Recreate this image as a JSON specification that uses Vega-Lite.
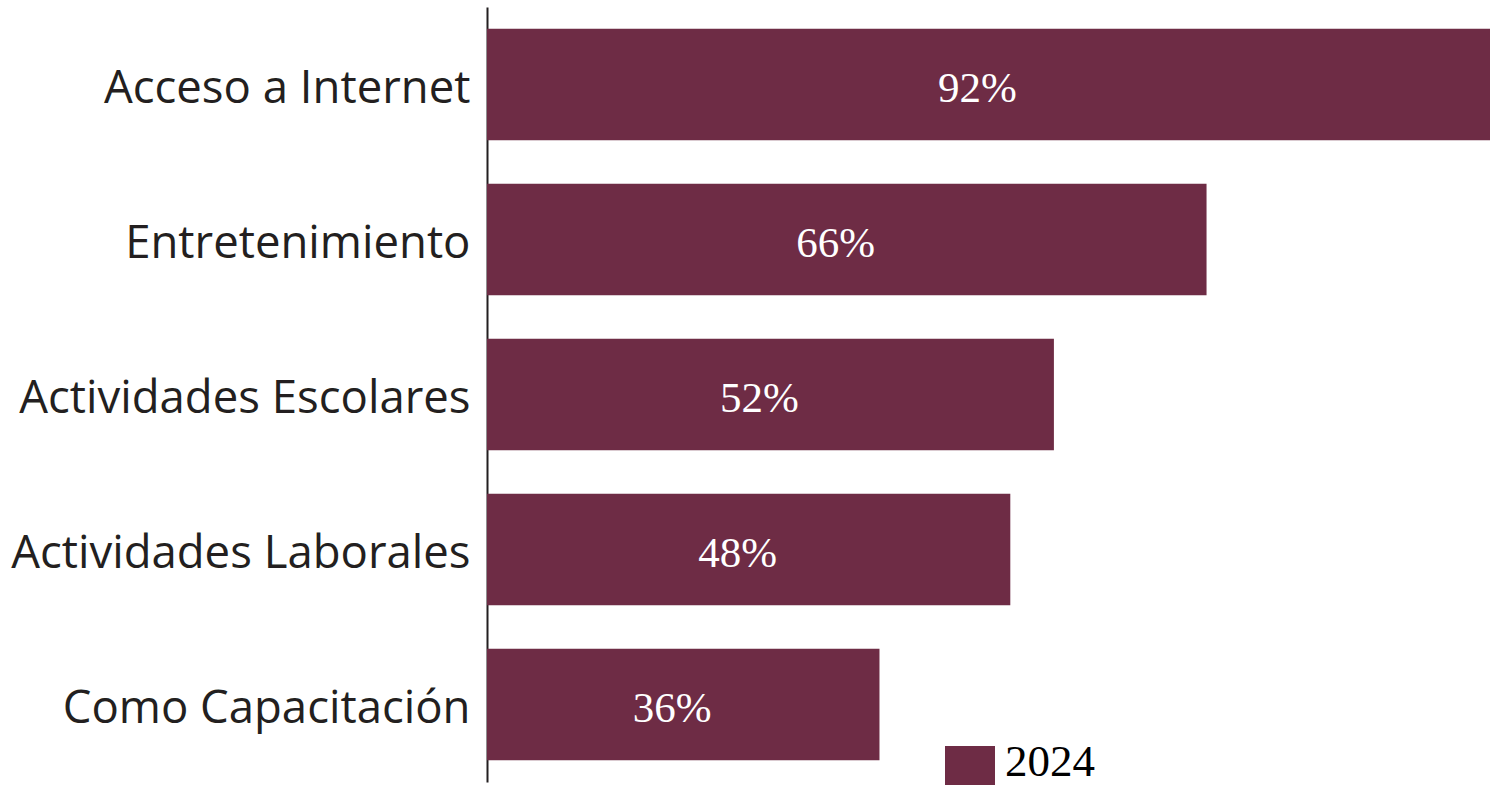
{
  "$schema": "https://vega.github.io/schema/vega-lite/v6.json",
  "width": 1003,
  "height": 775,
  "autosize": {"type": "none"},
  "padding": {"left": 487, "top": 7, "right": 9, "bottom": 3},
  "background": "white",
  "config": {"view": {"stroke": null}},
  "data": {"values": [
    {"uso": "Acceso a Internet", "value": 92, "year": "2024"},
    {"uso": "Entretenimiento", "value": 66, "year": "2024"},
    {"uso": "Actividades Escolares", "value": 52, "year": "2024"},
    {"uso": "Actividades Laborales", "value": 48, "year": "2024"},
    {"uso": "Como Capacitación", "value": 36, "year": "2024"}
  ]},
  "encoding": {
    "y": {
      "field": "uso", "type": "nominal", "sort": null,
      "scale": {"paddingInner": 0.28, "paddingOuter": 0.14},
      "axis": {
        "title": null, "ticks": false, "domainColor": "#231f20", "domainWidth": 2,
        "labelFont": "Open Sans", "labelFontSize": 45.5, "labelColor": "#231f20",
        "labelPadding": 17, "labelLimit": 0, "labelOffset": 4
      }
    }
  },
  "layer": [
    {
      "mark": {"type": "bar"},
      "encoding": {
        "x": {"field": "value", "type": "quantitative", "scale": {"domain": [0, 92], "nice": false}, "axis": null},
        "color": {
          "field": "year", "type": "nominal",
          "scale": {"range": ["#6e2c45"]},
          "legend": {
            "title": null, "orient": "none", "legendX": 458, "legendY": 730,
            "symbolType": "M-1,-0.64H1V1.36H-1Z", "symbolSize": 2500, "symbolStrokeWidth": 0,
            "labelFont": "Liberation Serif", "labelFontSize": 45, "labelColor": "#000000",
            "labelOffset": 10, "padding": 0
          }
        }
      }
    },
    {
      "transform": [
        {"calculate": "datum.value + '%'", "as": "label"},
        {"calculate": "datum.value / 2", "as": "mid"}
      ],
      "mark": {"type": "text", "font": "Liberation Serif", "fontSize": 43, "color": "white", "baseline": "middle", "align": "center", "dx": -11, "dy": 4},
      "encoding": {
        "x": {"field": "mid", "type": "quantitative"},
        "text": {"field": "label", "type": "nominal"}
      }
    }
  ]
}
